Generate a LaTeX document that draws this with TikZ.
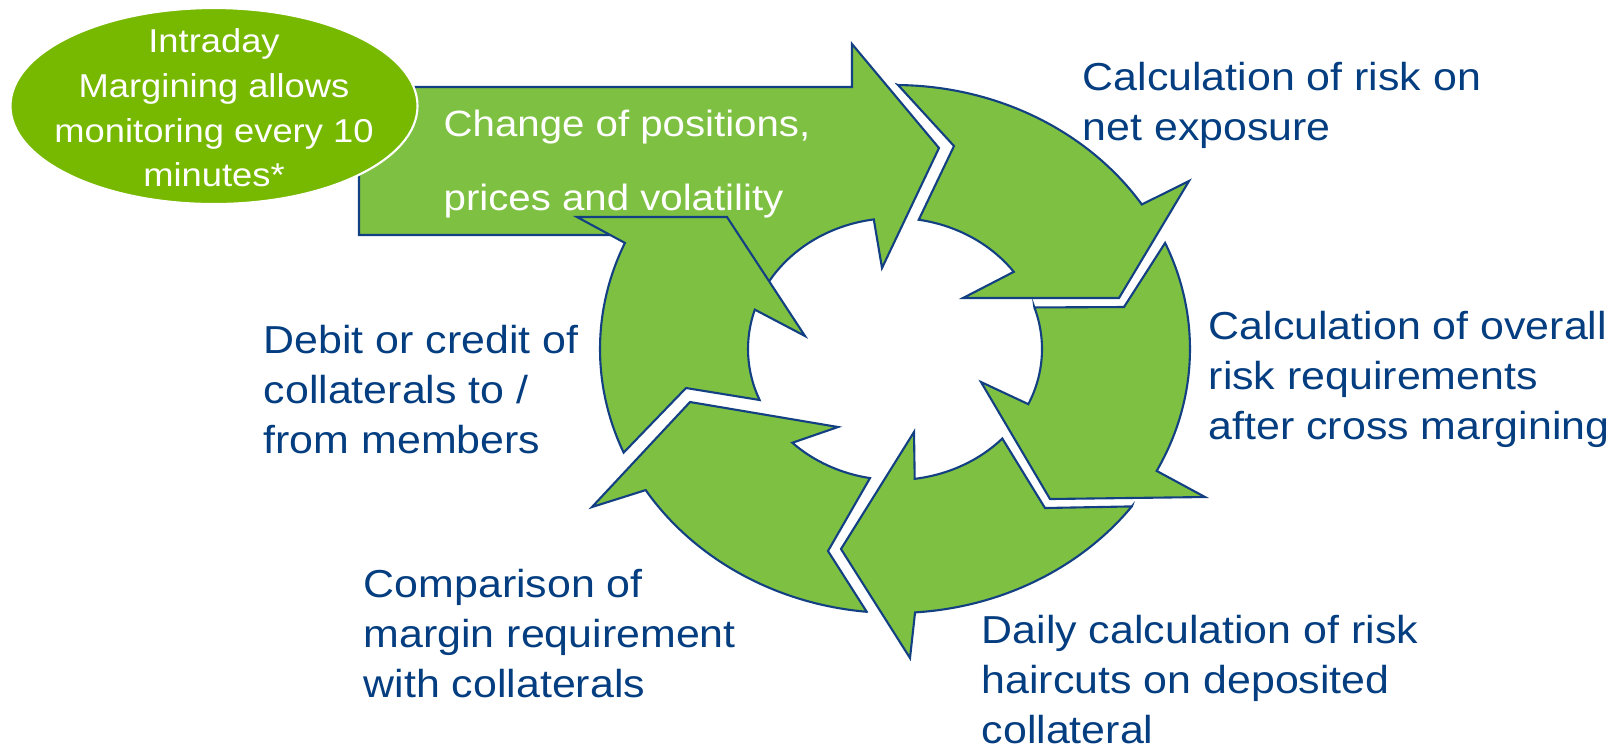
\documentclass[tikz,border=0pt]{standalone}
\usepackage{fontspec}
\setmainfont{Liberation Sans}[FakeStretch=1.1]
\usetikzlibrary{positioning,calc}
\definecolor{ringgreen}{RGB}{126,193,66}
\definecolor{ovalgreen}{RGB}{118,185,0}
\definecolor{rimblue}{RGB}{18,64,130}
\definecolor{textblue}{RGB}{4,62,128}
\tikzset{
  seg/.style={fill=ringgreen, draw=rimblue, line width=0.6pt, line join=miter},
  rim/.style={draw=rimblue, line width=0.6pt, line join=miter},
  inarc/.style={x radius=1.47, y radius=1.31},
  outarc/.style={x radius=2.95, y radius=2.64},
  lbl/.style={text=textblue, align=left, inner sep=0pt, font=\fontsize{11.1}{14.2}\selectfont},
}
% label placed by the baseline of its last line
\newcommand{\tnode}[3]{\node [lbl, anchor=base west] (#1) at (#2) {#3}}

\begin{document}
\begin{tikzpicture}
\useasboundingbox (0,0) rectangle (16.16,-7.52);

% top left piece of the ring, mostly under the straight arrow
\begin{scope}[shift={(8.95,-3.49)}]
\fill[ringgreen] (98.3:1.47 and 1.31) -- (-0.13,0.81) -- (0.44,2.01) -- (95:2.95 and 2.64)
  arc[outarc, start angle=95, end angle=160] -- (160:1.47 and 1.31)
  arc[inarc, start angle=160, end angle=98.3] -- cycle;
\end{scope}

% straight arrow
\fill[ringgreen] (3.59,-2.35) -- (3.59,-0.87) -- (8.52,-0.87) -- (8.52,-0.44) -- (9.39,-1.48)
  -- (8.85,-2.05) -- (8.15,-2.35) -- cycle;

\begin{scope}[shift={(8.95,-3.49)}]
\draw[rim] (160:1.47 and 1.31) arc[inarc, start angle=160, end angle=98.3] -- (-0.13,0.81)
  -- (0.44,2.01) -- (-0.43,3.05) -- (-0.43,2.62) -- (-5.36,2.62) -- (-5.36,1.14) -- (-2.55,1.14);

% top right
\path[seg] (89.4:2.95 and 2.64) -- (0.59,2.03) -- (80.7:1.47 and 1.31)
  arc[inarc, start angle=80.7, end angle=36.1] -- (0.68,0.51) -- (2.24,0.51)
  -- (2.94,1.68) -- (33.2:2.95 and 2.64) arc[outarc, start angle=33.2, end angle=89.4] -- cycle;
% right
\path[seg] (18.5:1.47 and 1.31) -- (2.29,0.42) -- (23.7:2.95 and 2.64)
  arc[outarc, start angle=23.7, end angle=-27.5] -- (3.10,-1.48) -- (1.55,-1.50)
  -- (0.86,-0.33) -- (-24.9:1.47 and 1.31) arc[inarc, start angle=-24.9, end angle=18.5] -- cycle;
% bottom right
\path[seg] (-36.6:2.95 and 2.64) -- (1.50,-1.59) -- (-43.1:1.47 and 1.31)
  arc[inarc, start angle=-43.1, end angle=-82.3] -- (0.19,-0.83) -- (-0.54,-2.00)
  -- (0.15,-3.09) -- (-86.1:2.95 and 2.64) arc[outarc, start angle=-86.1, end angle=-36.6] -- cycle;
% bottom left
\path[seg] (-95.5:2.95 and 2.64) -- (-0.67,-2.02) -- (-99.8:1.47 and 1.31)
  arc[inarc, start angle=-99.8, end angle=-134.3] -- (-0.57,-0.78) -- (-2.05,-0.53)
  -- (-3.03,-1.58) -- (-147.7:2.95 and 2.64) arc[outarc, start angle=-147.7, end angle=-95.5] -- cycle;
% left
\path[seg] (203.1:2.95 and 2.64) -- (-2.09,-0.39) -- (202.9:1.47 and 1.31)
  arc[inarc, start angle=202.9, end angle=162.5] -- (-0.90,0.13) -- (-1.68,1.32)
  -- (-3.18,1.32) -- (156.3:2.95 and 2.64) arc[outarc, start angle=156.3, end angle=203.1] -- cycle;
\end{scope}

% oval
\filldraw[fill=ovalgreen, draw=white, line width=0.6pt] (2.14,-1.06) ellipse[x radius=2.035, y radius=0.98];
\node[text=white, align=center, inner sep=0pt, font=\fontsize{9.4}{12.7}\selectfont] (intraday) at (2.14,-1.08)
  {Intraday\\Margining allows\\monitoring every 10\\minutes*};

\node[text=white, align=left, inner sep=0pt, anchor=base west, font=\fontsize{10.4}{20.8}\selectfont] (change) at (4.43,-2.10)
  {Change of positions,\\prices and volatility};

\tnode{riskNet}{10.82,-1.40}{Calculation of risk on\\net exposure};
\tnode{riskAll}{12.08,-4.39}{Calculation of overall\\risk requirements\\after cross margining};
\tnode{haircut}{9.81,-7.43}{Daily calculation of risk\\haircuts on deposited\\collateral};
\tnode{compare}{3.63,-6.97}{Comparison of\\margin requirement\\with collaterals};
\tnode{debit}{2.63,-4.533}{Debit or credit of\\collaterals to /\\from members};

\end{tikzpicture}
\end{document}
